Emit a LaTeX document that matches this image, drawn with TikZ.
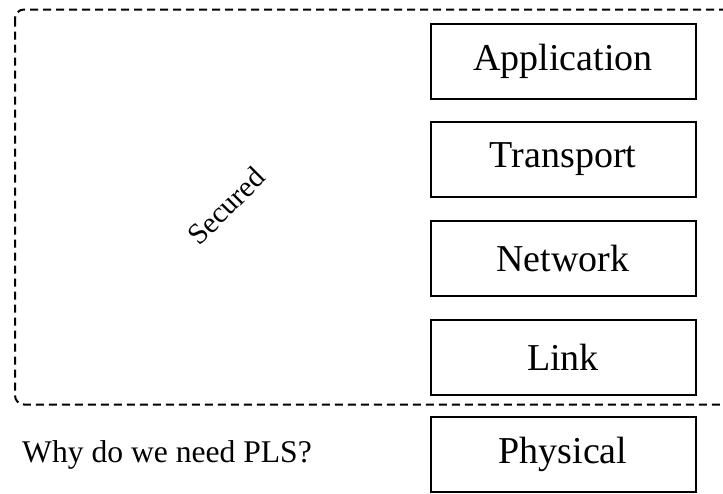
\documentclass[tikz,border=0pt]{standalone}
\usepackage{fontspec}
\setmainfont{Liberation Serif}
\begin{document}
\begin{tikzpicture}[x=1pt,y=-1pt,
  layer/.style={draw, line width=2pt, minimum width=265pt, minimum height=75pt,
    inner sep=0pt, font=\fontsize{38}{40}\selectfont},
  zone/.style={draw, line width=2pt, dash pattern=on 8pt off 5pt, rounded corners=9pt},
  note/.style={inner sep=0pt, font=\fontsize{31.6}{34}\selectfont}]
\useasboundingbox (0,0) rectangle (723,493);
% secured region, open towards the right edge
\begin{scope}
  \clip (0,0) rectangle (723,493);
  \draw[zone] (15,9.5) rectangle (760,404.5);
\end{scope}
% protocol stack
\node[layer] (app) at (563,61) {Application};
\node[layer] (tra) at (563,159.5) {Transport};
\node[layer] (net) at (563,258) {Network};
\node[layer] (lnk) at (563,357) {Link};
\node[layer] (phy) at (563,454.5) {Physical};
% labels
\node[note, rotate=45, font=\fontsize{29.5}{31}\selectfont] (sec) at (226,206) {Secured};
\node[note, anchor=base west] (why) at (22,462.5) {Why do we need PLS?};
\end{tikzpicture}
\end{document}
